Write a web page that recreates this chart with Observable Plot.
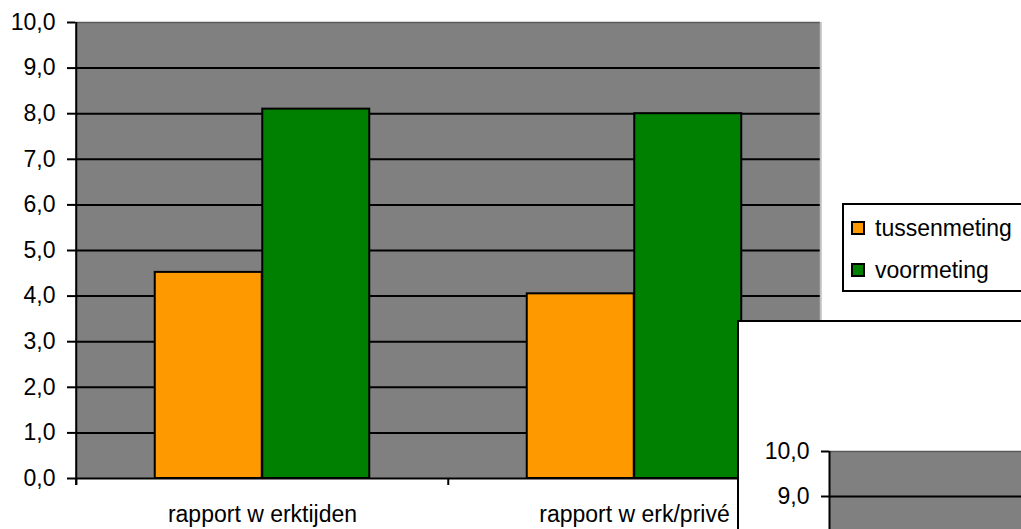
<!DOCTYPE html>
<html>
<head>
<meta charset="utf-8">
<script src="https://cdn.jsdelivr.net/npm/d3@7"></script>
<script src="https://cdn.jsdelivr.net/npm/@observablehq/plot@0.6"></script>
<style>
  html, body { margin: 0; padding: 0; background: #fff; }
  body { width: 1021px; height: 529px; overflow: hidden; position: relative;
         font-family: "Liberation Sans", Arial, sans-serif; }
  #main { position: absolute; left: 0; top: 0; }
  #legend { position: absolute; left: 842px; top: 203px; width: 200px; height: 85px;
            border: 2px solid #000; background: #fff; }
  .item { position: absolute; left: 7px; height: 28px; display: flex; align-items: center;
          font-size: 23px; color: #000; white-space: nowrap; }
  .sw { width: 10px; height: 10px; border: 2px solid #000; margin-right: 10px; flex: none; }
  #overlay { position: absolute; left: 737px; top: 320px; width: 300px; height: 230px;
             border-left: 2px solid #000; border-top: 2px solid #000; background: #fff; overflow: hidden; }
  #overlay > svg { position: absolute; left: 0; top: 0; }
  svg [aria-label^="y-axis"] line, svg [aria-label^="y-axis"] path { stroke-width: 2px; }
</style>
</head>
<body>
<div id="main"></div>
<div id="legend"></div>
<div id="overlay"></div>
<script>
// ---- data ----
const categories = ["rapport w erktijden", "rapport w erk/privé"];
const series = ["tussenmeting", "voormeting"];
const tussenmeting = [4.52, 4.05];
const voormeting = [8.1, 8.0];
const colors = ["#FF9900", "#008000"];
const yTicks = [0, 1, 2, 3, 4, 5, 6, 7, 8, 9, 10];

// ---- layout ----
const fmt = d => d.toFixed(1).replace(".", ",");
const font = '"Liberation Sans", Arial, sans-serif';
const W = 1021, H = 529, mL = 75, mR = 201, mT = 22, mB = 51;
const yMin = yTicks[0], yMax = yTicks[yTicks.length - 1];
const bw = (W - mL - mR) / categories.length;
const barW = 107.5;
const pxPerUnit = (H - mT - mB) / (yMax - yMin);
const ext = 7 / pxPerUnit;
const grid = yTicks.filter(v => v > yMin && v < yMax);

const rows = categories.flatMap((c, i) => [
  {category: c, series: series[0], value: tussenmeting[i]},
  {category: c, series: series[1], value: voormeting[i]}
]);

const main = Plot.plot({
  width: W, height: H,
  marginLeft: mL, marginRight: mR, marginTop: mT, marginBottom: mB,
  style: {fontFamily: font, fontSize: "23px", background: "transparent", color: "#000", overflow: "visible"},
  x: {domain: categories, padding: 0, axis: "bottom", tickSize: 0, tickPadding: 27, label: null},
  y: {domain: [yMin, yMax], ticks: yTicks, tickFormat: fmt, tickSize: 8, tickPadding: 12, label: null},
  marks: [
    Plot.frame({fill: "#808080", stroke: null}),
    Plot.ruleY(grid, {stroke: "#000", strokeWidth: 2}),
    Plot.ruleY([yMax], {stroke: "#5a5a5a", strokeWidth: 1.5}),
    Plot.ruleX([categories[categories.length - 1]], {dx: bw / 2, y1: yMin, y2: yMax, stroke: "#c0c0c0", strokeWidth: 2}),
    Plot.barY(rows.filter(d => d.series === series[0]), {
      x: "category", y: "value", fill: colors[0], stroke: "#000", strokeWidth: 2,
      insetLeft: bw / 2 - barW, insetRight: bw / 2
    }),
    Plot.barY(rows.filter(d => d.series === series[1]), {
      x: "category", y: "value", fill: colors[1], stroke: "#000", strokeWidth: 2,
      insetLeft: bw / 2, insetRight: bw / 2 - barW
    }),
    Plot.ruleY([yMin], {stroke: "#000", strokeWidth: 2}),
    Plot.ruleX([categories[0]], {dx: -bw / 2, y1: yMin - ext, y2: yMax, stroke: "#000", strokeWidth: 2}),
    Plot.ruleX(categories, {dx: -bw / 2, y1: yMin - ext, y2: yMin, stroke: "#000", strokeWidth: 2}),
    Plot.ruleX([categories[categories.length - 1]], {dx: bw / 2, y1: yMin - ext, y2: yMin, stroke: "#000", strokeWidth: 2})
  ]
});
document.getElementById("main").appendChild(main);

// ---- legend ----
const legend = document.getElementById("legend");
const rowCenters = [23, 65];
series.forEach((s, i) => {
  const it = document.createElement("div");
  it.className = "item";
  it.style.top = (rowCenters[i] - 14) + "px";
  const sw = document.createElement("span");
  sw.className = "sw";
  sw.style.background = colors[i];
  const tx = document.createElement("span");
  tx.textContent = s;
  it.appendChild(sw); it.appendChild(tx);
  legend.appendChild(it);
});

// ---- overlapping second chart (only its top is visible in the window) ----
const W2 = 290, H2 = 629, mL2 = 90, mT2 = 129, mB2 = 50;
const overlayTop = 322;
const px2 = (H2 - mT2 - mB2) / (yMax - yMin);
const ext2 = 7 / px2;
// only label the ticks that fall inside the visible window
const visibleTicks = yTicks.filter(v => overlayTop + mT2 + (yMax - v) * px2 < H - 15);
const second = Plot.plot({
  width: W2, height: H2,
  marginLeft: mL2, marginRight: 0, marginTop: mT2, marginBottom: mB2,
  style: {fontFamily: font, fontSize: "23px", background: "transparent", color: "#000", overflow: "visible"},
  x: {domain: [0, 1], axis: null},
  y: {domain: [yMin, yMax], ticks: visibleTicks, tickFormat: fmt, tickSize: 8, tickPadding: 12, label: null},
  marks: [
    Plot.frame({fill: "#808080", stroke: null}),
    Plot.ruleY(grid, {stroke: "#000", strokeWidth: 2}),
    Plot.ruleY([yMax], {stroke: "#5a5a5a", strokeWidth: 1.5}),
    Plot.ruleY([yMin], {stroke: "#000", strokeWidth: 2}),
    Plot.ruleX([0], {y1: yMin - ext2, y2: yMax, stroke: "#000", strokeWidth: 2})
  ]
});
document.getElementById("overlay").appendChild(second);
</script>
</body>
</html>
